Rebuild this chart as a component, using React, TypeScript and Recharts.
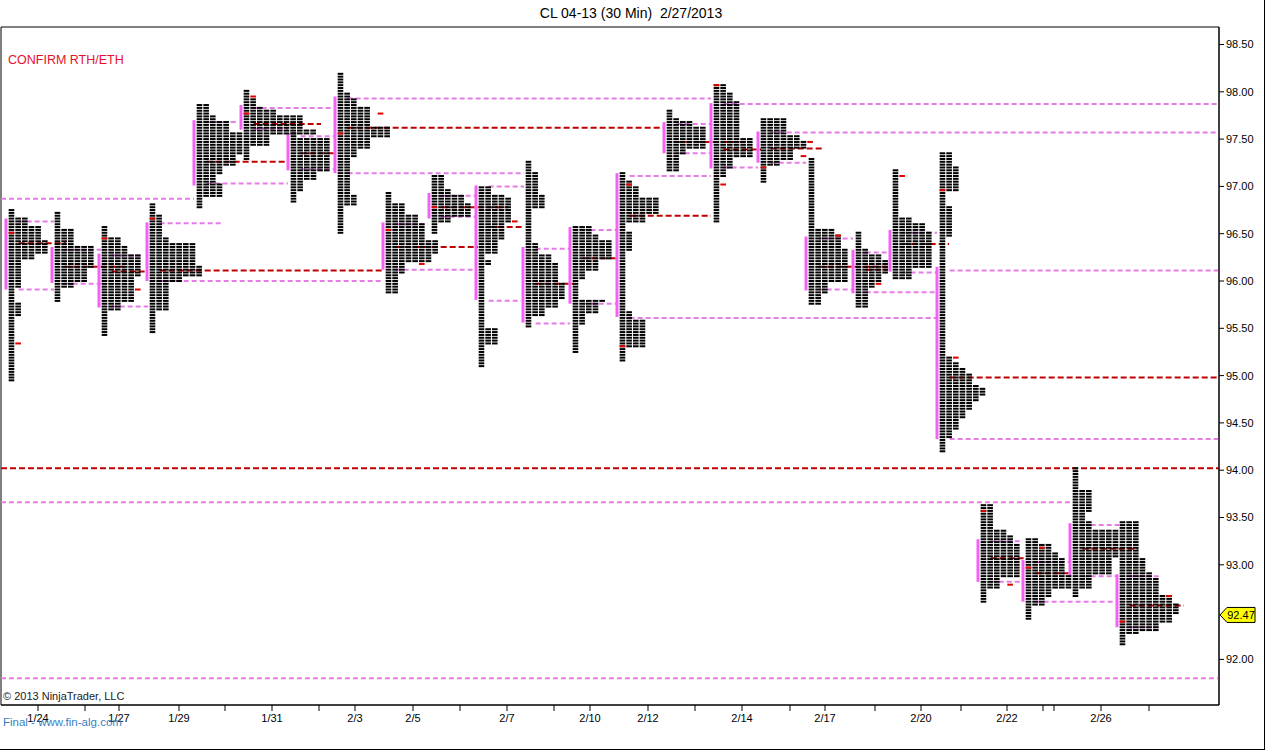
import React from 'react';
import {
  ComposedChart,
  Scatter,
  XAxis,
  YAxis,
  ReferenceLine,
  ReferenceDot,
  ReferenceArea,
} from 'recharts';

// CL 04-13 market profile, 30 min TPOs, one profile per session.
// x is measured in TPO columns, y in price. Each TPO row is 0.03.

const TITLE = 'CL 04-13 (30 Min)  2/27/2013';
const LAST_PRICE = 92.47;
const ROW_STEP = 0.03;

const X_MAX = 182.7;
const Y_MIN = 91.518;
const Y_MAX = 98.685;

// 92.50 sits under the last-price tag, so it is not labelled
const priceTicks = [92, 93, 93.5, 94, 94.5, 95, 95.5, 96, 96.5, 97, 97.5, 98, 98.5];

const dateTicks = [
  5.55, 12.6, 17.7, 26.7, 33.6, 40.65, 47.7, 53.1, 61.8, 68.85, 75.9, 82.95, 88.35,
  97.05, 104.1, 111.15, 118.35, 123.6, 131.1, 138, 144, 150.9, 156.3, 157.95, 165, 172.2,
];
const dateLabels = [
  '1/24', '', '1/27', '1/29', '', '1/31', '', '2/3', '2/5', '', '2/7', '', '2/10',
  '2/12', '', '2/14', '', '2/17', '', '2/20', '', '2/22', '', '', '2/26', '',
];

// left edge (initial balance bar) of each session profile, in columns
const profileStarts = [
  0.75, 7.65, 14.7, 21.9, 28.95, 36, 43.05, 50.1, 57.3, 64.2, 71.25, 78.3, 85.35,
  92.4, 99.45, 106.5, 113.55, 120.75, 127.8, 133.35, 140.4, 146.55, 153.3, 160.35, 167.4,
];

// initial balance range [high, low]
const ibRanges = [
  [96.66, 95.91], [96.36, 95.98], [96.29, 95.72], [96.62, 96.0], [97.7, 97.01],
  [97.86, 97.6], [97.56, 97.17], [97.95, 97.14], [96.62, 96.12], [96.93, 96.66],
  [97.01, 95.8], [96.36, 95.56], [96.57, 95.76], [97.14, 95.62], [97.68, 97.35],
  [97.88, 97.19], [97.58, 97.25], [96.47, 95.9], [96.33, 95.87], [96.54, 96.1],
  [96.15, 94.33], [93.27, 92.82], [93.05, 92.61], [93.44, 92.87], [92.9, 92.34],
];

// TPO counts as runs: [from price, to price, TPOs per row]
const profileRuns = [
  [[96.76, 96.65, 1], [96.65, 96.58, 3], [96.58, 96.43, 5], [96.43, 96.26, 6], [96.26, 96.2, 4], [96.2, 95.9, 2], [95.9, 95.75, 1], [95.75, 95.61, 2], [95.61, 94.94, 1]],
  [[96.71, 96.54, 1], [96.54, 96.35, 3], [96.35, 96.12, 6], [96.12, 95.98, 5], [95.98, 95.9, 3], [95.9, 95.8, 1]],
  [[96.56, 96.46, 1], [96.46, 96.35, 3], [96.35, 96.27, 4], [96.27, 96.04, 6], [96.04, 95.75, 5], [95.75, 95.67, 3], [95.67, 95.43, 1]],
  [[96.82, 96.68, 1], [96.68, 96.46, 2], [96.46, 96.38, 3], [96.38, 96.15, 7], [96.15, 96.04, 8], [96.04, 95.98, 5], [95.98, 95.67, 3], [95.67, 95.46, 1]],
  [[97.85, 97.75, 2], [97.75, 97.68, 3], [97.68, 97.56, 5], [97.56, 97.31, 7], [97.31, 97.2, 6], [97.2, 97.1, 4], [97.1, 97.01, 3], [97.01, 96.86, 4], [96.86, 96.78, 1]],
  [[98.0, 97.91, 1], [97.91, 97.84, 2], [97.84, 97.79, 3], [97.79, 97.75, 5], [97.75, 97.6, 9], [97.6, 97.52, 11], [97.52, 97.4, 4], [97.4, 97.28, 1]],
  [[97.56, 97.5, 1], [97.5, 97.14, 6], [97.14, 97.04, 4], [97.04, 96.93, 2], [96.93, 96.83, 1]],
  [[98.18, 97.97, 1], [97.97, 97.91, 2], [97.91, 97.83, 3], [97.83, 97.63, 5], [97.63, 97.51, 8], [97.51, 97.38, 5], [97.38, 97.28, 3], [97.28, 96.9, 2], [96.9, 96.78, 3], [96.78, 96.51, 1]],
  [[96.92, 96.8, 1], [96.8, 96.7, 3], [96.7, 96.59, 5], [96.59, 96.43, 6], [96.43, 96.27, 8], [96.27, 96.17, 7], [96.17, 96.06, 3], [96.06, 95.87, 2]],
  [[97.1, 96.96, 2], [96.96, 96.89, 3], [96.89, 96.8, 5], [96.8, 96.67, 6], [96.67, 96.59, 3], [96.59, 96.51, 1]],
  [[97.0, 96.91, 2], [96.91, 96.86, 4], [96.86, 96.59, 5], [96.59, 96.43, 4], [96.43, 96.27, 3], [96.27, 96.22, 1], [96.22, 96.15, 2], [96.15, 95.48, 1], [95.48, 95.32, 3], [95.32, 95.09, 1]],
  [[97.25, 97.13, 1], [97.13, 96.89, 2], [96.89, 96.75, 3], [96.75, 96.38, 1], [96.38, 96.27, 2], [96.27, 96.17, 4], [96.17, 95.96, 5], [95.96, 95.8, 6], [95.8, 95.69, 5], [95.69, 95.61, 3], [95.61, 95.51, 1]],
  [[96.58, 96.49, 3], [96.49, 96.43, 4], [96.43, 96.22, 6], [96.22, 96.1, 4], [96.1, 96.01, 2], [96.01, 95.8, 1], [95.8, 95.75, 5], [95.75, 95.64, 4], [95.64, 95.53, 2], [95.53, 95.25, 1]],
  [[97.13, 97.05, 1], [97.05, 96.98, 2], [96.98, 96.86, 3], [96.86, 96.7, 6], [96.7, 96.61, 4], [96.61, 96.51, 1], [96.51, 96.29, 2], [96.29, 95.67, 1], [95.67, 95.59, 2], [95.59, 95.29, 4], [95.29, 95.15, 1]],
  [[97.79, 97.72, 1], [97.72, 97.68, 2], [97.68, 97.62, 4], [97.62, 97.38, 6], [97.38, 97.31, 3], [97.31, 97.17, 2]],
  [[98.08, 97.97, 2], [97.97, 97.88, 3], [97.88, 97.51, 4], [97.51, 97.28, 6], [97.28, 97.17, 3], [97.17, 97.09, 2], [97.09, 96.62, 1]],
  [[97.72, 97.52, 4], [97.52, 97.47, 6], [97.47, 97.38, 7], [97.38, 97.26, 5], [97.26, 97.19, 3], [97.19, 97.05, 1]],
  [[97.3, 96.54, 1], [96.54, 96.48, 4], [96.48, 96.33, 5], [96.33, 95.96, 6], [95.96, 95.85, 3], [95.85, 95.77, 2]],
  [[96.52, 96.33, 1], [96.33, 96.27, 2], [96.27, 96.2, 4], [96.2, 96.06, 5], [96.06, 95.96, 4], [95.96, 95.9, 3], [95.9, 95.72, 2]],
  [[97.18, 96.67, 1], [96.67, 96.59, 3], [96.59, 96.52, 5], [96.52, 96.12, 6], [96.12, 96.02, 3]],
  [[97.36, 97.2, 2], [97.2, 96.93, 3], [96.93, 96.77, 1], [96.77, 96.46, 2], [96.46, 95.2, 1], [95.2, 95.13, 2], [95.13, 95.07, 3], [95.07, 95.0, 4], [95.0, 94.9, 5], [94.9, 94.86, 6], [94.86, 94.76, 7], [94.76, 94.7, 6], [94.7, 94.63, 5], [94.63, 94.53, 4], [94.53, 94.42, 3], [94.42, 94.32, 2], [94.32, 94.19, 1]],
  [[93.64, 93.37, 2], [93.37, 93.29, 4], [93.29, 93.2, 5], [93.2, 92.84, 6], [92.84, 92.73, 3], [92.73, 92.61, 1]],
  [[93.28, 93.21, 2], [93.21, 93.13, 4], [93.13, 93.05, 5], [93.05, 92.89, 6], [92.89, 92.73, 7], [92.73, 92.63, 4], [92.63, 92.55, 3], [92.55, 92.44, 1]],
  [[94.03, 93.79, 1], [93.79, 93.55, 3], [93.55, 93.44, 2], [93.44, 93.37, 3], [93.37, 93.05, 7], [93.05, 92.89, 6], [92.89, 92.73, 3], [92.73, 92.67, 1]],
  [[93.46, 93.05, 3], [93.05, 92.92, 4], [92.92, 92.86, 5], [92.86, 92.68, 6], [92.68, 92.57, 8], [92.57, 92.47, 9], [92.47, 92.36, 8], [92.36, 92.29, 6], [92.29, 92.24, 3], [92.24, 92.15, 1]],
];

// open / close marks: [profile, column, price]
const openCloseMarks = [
  [0, 0, 96.52], [0, 1, 95.33], [2, 0, 96.45], [2, 5, 95.91], [3, 0, 96.67], [5, 0, 97.78],
  [5, 1, 97.96], [7, 0, 97.56], [7, 6, 97.78], [8, 0, 96.55], [8, 5, 96.19], [9, 0, 96.78],
  [10, 5, 96.63], [13, 1, 97.02], [13, 0, 95.31], [15, 0, 98.06], [15, 1, 97.02], [16, 0, 97.2],
  [16, 7, 97.46], [16, 6, 97.31], [17, 4, 96.48], [18, 3, 95.98], [19, 1, 97.12], [20, 0, 96.97],
  [20, 2, 95.2], [21, 0, 93.56], [21, 4, 92.8], [22, 0, 92.96], [22, 2, 93.17], [24, 0, 92.41], [24, 7, 92.66],
];

const pocPrices = [96.4, 96.15, 96.1, 96.11, 97.26, 97.66, 97.35, 97.62, 96.36, 96.78, 96.57, 95.97, 96.24, 96.69, 97.47, 97.39, 97.4, 96.15, 96.12, 96.39, 94.98, 93.07, 92.91, 93.17, 92.57];
const vahPrices = [96.63, 96.33, 96.27, 96.61, 97.68, 97.83, 97.53, 97.93, 96.6, 96.9, 97.0, 96.34, 96.54, 97.11, 97.66, 97.87, 97.57, 96.45, 96.3, 96.51, 96.11, 93.25, 93.03, 93.42, 92.88];
const valPrices = [95.91, 95.97, 95.73, 96.0, 97.03, 97.61, 97.18, 97.14, 96.12, 96.68, 95.79, 95.55, 95.76, 95.61, 97.35, 97.2, 97.25, 95.91, 95.88, 96.09, 94.33, 92.82, 92.61, 92.88, 92.34];

// where each level stops being extended (column)
const pocEnds = [9.75, 19.05, 22.05, 57.3, 43.05, 48, 49.95, 99.45, 71.55, 76.05, 78.45, 85.95, 92.4, 106.5, 111.45, 114, 123.45, 133.05, 133.05, 142.2, X_MAX, 153.45, 160.5, 170.55, 177.45];
const vahEnds = [7.95, 15, 21.3, 33, 35.55, 49.8, 49.95, 106.5, 64.05, 71.25, 78.45, 85.35, 92.4, 106.5, 106.5, X_MAX, X_MAX, 127.8, 133.05, 140.4, X_MAX, 153.3, 160.35, 167.7, 174];
const valEnds = [7.95, 15, 22.05, 57.3, 43.05, 43.05, 49.95, 78.45, 71.25, 71.25, 78, 85.35, 92.4, 140.25, 106.5, 113.55, 120.75, 127.8, 140.25, 140.4, X_MAX, 153.3, 166.95, 167.4, 174];

// levels left over from sessions before the window
const olderPrices = [96.87, 93.66, 94.02, 91.8];
const olderEnds = [28.95, 160.35, X_MAX, X_MAX];
const olderKinds = ['va', 'va', 'poc', 'va'];

const BLOCK_OFFSET = 0.82;
const LINE_OFFSET = 1.9;

const POC_COLOR = '#c00000';
const VA_COLOR = '#e67ce6';
const IB_COLOR = '#f462f4';

function expandRuns(runs: number[][]) {
  const rows: { price: number; cols: number }[] = [];
  runs.forEach(([top, bottom, cols], i) => {
    const hi = Math.round(top / ROW_STEP);
    const lo = Math.round(bottom / ROW_STEP);
    const last = i === runs.length - 1;
    for (let r = hi; last ? r >= lo : r > lo; r--) rows.push({ price: r * ROW_STEP, cols });
  });
  return rows;
}

const tpoBlocks = profileStarts.flatMap((start, p) =>
  expandRuns(profileRuns[p]).flatMap(({ price, cols }) =>
    Array.from({ length: cols }, (_, k) => ({ x: start + BLOCK_OFFSET + k, y: price }))
  )
);

const markBlocks = openCloseMarks.map(([p, col, price]) => ({
  x: profileStarts[p] + BLOCK_OFFSET + col,
  y: Math.round(price / ROW_STEP) * ROW_STEP,
}));

const Block = (props: any) => (
  <rect x={props.cx - 2.8} y={props.cy - 1} width={5.6} height={2} fill="#000" />
);
const RedBlock = (props: any) => (
  <rect x={props.cx - 2.8} y={props.cy - 1} width={5.6} height={2} fill="#e00000" />
);

const PriceTag = (props: any) => {
  const { cx, cy } = props;
  return (
    <g>
      <polygon
        points={`${cx + 1},${cy} ${cx + 8},${cy - 7.5} ${cx + 36},${cy - 7.5} ${cx + 36},${cy + 7.5} ${cx + 8},${cy + 7.5}`}
        fill="#ffff00"
        stroke="#000"
        strokeWidth={1}
      />
      <text x={cx + 22} y={cy + 4} textAnchor="middle" fontSize={11} fill="#000">
        {LAST_PRICE.toFixed(2)}
      </text>
    </g>
  );
};

function levelLine(key: string, from: number, to: number, price: number, kind: string) {
  const poc = kind === 'poc';
  return (
    <ReferenceLine
      key={key}
      segment={[{ x: from, y: price }, { x: to, y: price }]}
      stroke={poc ? POC_COLOR : VA_COLOR}
      strokeWidth={2}
      strokeDasharray={poc ? '6 3' : '5 3'}
      ifOverflow="visible"
    />
  );
}

export default function App() {
  const levels: React.ReactNode[] = [];
  profileStarts.forEach((start, p) => {
    const from = start + LINE_OFFSET;
    levels.push(levelLine(`vah${p}`, from, vahEnds[p], vahPrices[p], 'va'));
    levels.push(levelLine(`val${p}`, from, valEnds[p], valPrices[p], 'va'));
    levels.push(levelLine(`poc${p}`, from, pocEnds[p], pocPrices[p], 'poc'));
  });
  olderPrices.forEach((price, i) => {
    levels.push(levelLine(`old${i}`, 0, olderEnds[i], price, olderKinds[i]));
  });

  return (
    <div
      style={{
        position: 'relative',
        width: 1264,
        height: 749,
        borderRight: '1px solid #000',
        borderBottom: '1px solid #000',
        background: '#fff',
        fontFamily: '"Liberation Sans", Arial, sans-serif',
      }}
    >
      <style>{'body { margin: 0; }'}</style>
      <ComposedChart width={1265} height={750} margin={{ top: 27, right: 0, bottom: 15, left: 1 }}>
        <XAxis
          dataKey="x"
          type="number"
          domain={[0, X_MAX]}
          allowDataOverflow
          ticks={dateTicks}
          interval={0}
          tickFormatter={(v: number) => dateLabels[dateTicks.indexOf(v)] ?? ''}
          tick={{ fontSize: 11, fill: '#000' }}
          tickLine={{ stroke: '#000' }}
          axisLine={{ stroke: '#000' }}
          tickSize={6}
          tickMargin={3}
          height={30}
        />
        <YAxis
          dataKey="y"
          type="number"
          orientation="right"
          domain={[Y_MIN, Y_MAX]}
          allowDataOverflow
          ticks={priceTicks}
          interval={0}
          tickFormatter={(v: number) => v.toFixed(2)}
          tick={{ fontSize: 11, fill: '#000' }}
          tickLine={{ stroke: '#000' }}
          axisLine={{ stroke: '#000' }}
          tickSize={5}
          tickMargin={2}
          width={46}
        />
        <ReferenceArea x1={0} x2={X_MAX} y1={Y_MIN} y2={Y_MAX} fill="none" stroke="#000" strokeWidth={1} />
        <Scatter data={tpoBlocks} shape={Block} isAnimationActive={false} />
        <Scatter data={markBlocks} shape={RedBlock} isAnimationActive={false} />
        {levels}
        {profileStarts.map((start, p) => (
          <ReferenceLine
            key={`ib${p}`}
            segment={[{ x: start, y: ibRanges[p][0] }, { x: start, y: ibRanges[p][1] }]}
            stroke={IB_COLOR}
            strokeWidth={3}
            ifOverflow="visible"
          />
        ))}
        <ReferenceDot x={X_MAX} y={LAST_PRICE} ifOverflow="visible" shape={PriceTag} />
      </ComposedChart>

      <div style={{ position: 'absolute', left: 0, top: 5, width: 1262, textAlign: 'center', fontSize: 14, color: '#000', whiteSpace: 'pre' }}>
        {TITLE}
      </div>
      <div style={{ position: 'absolute', left: 8, top: 53, fontSize: 12.5, color: '#e8102a' }}>CONFIRM RTH/ETH</div>
      <div style={{ position: 'absolute', left: 3, top: 690, fontSize: 11, color: '#222' }}>© 2013 NinjaTrader, LLC</div>
      <div style={{ position: 'absolute', left: 3, top: 716, fontSize: 11.5, color: '#3a7fc4' }}>Final - www.fin-alg.com</div>
    </div>
  );
}
